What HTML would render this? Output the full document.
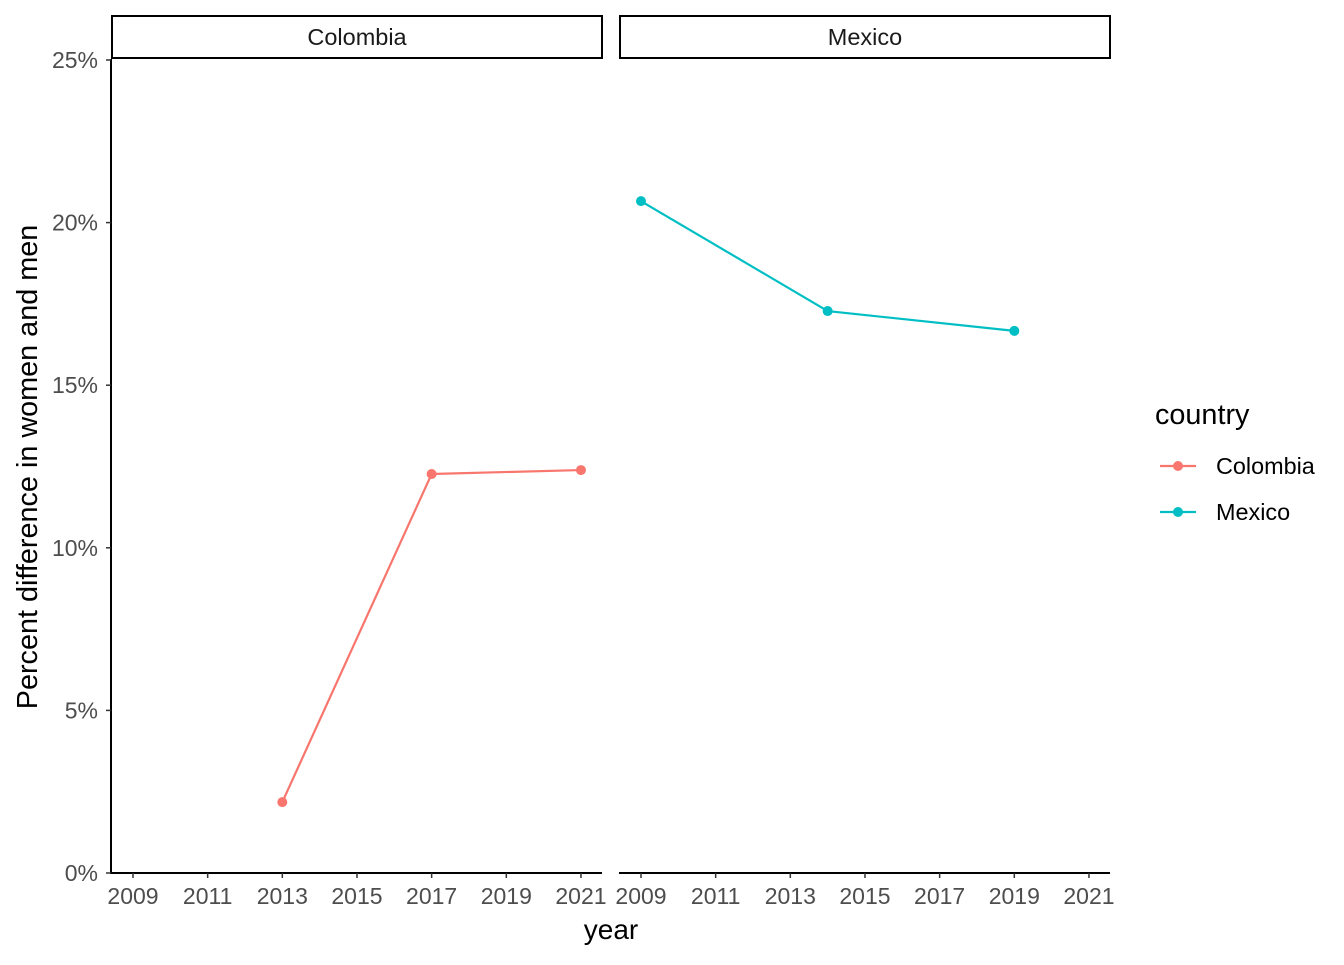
<!DOCTYPE html>
<html><head><meta charset="utf-8"><style>
body{margin:0;background:#fff;}
svg text{font-family:"Liberation Sans",Arial,sans-serif;}
</style></head><body>
<svg id="chart" width="1344" height="960" xmlns="http://www.w3.org/2000/svg"></svg>
<script>
const panels = ["Colombia","Mexico"];
const colYears = [2013, 2017, 2021];
const colValues = [2.18, 12.27, 12.39];
const mexYears = [2009, 2014, 2019];
const mexValues = [20.66, 17.28, 16.67];
const xTicks = [2009, 2011, 2013, 2015, 2017, 2019, 2021];
const yTicks = [0, 5, 10, 15, 20, 25];
const colors = ["#F8766D", "#00BFC4"];

const NS = "http://www.w3.org/2000/svg";
const svg = document.getElementById("chart");
function el(tag, attrs, parent) {
  const e = document.createElementNS(NS, tag);
  for (const k in attrs) e.setAttribute(k, attrs[k]);
  (parent || svg).appendChild(e);
  return e;
}
const y = v => 873 - v * 32.52;
const panelX0 = [111, 619];
const xs = (p, yr) => panelX0[p] + 22 + (yr - 2009) * 37.33;
const series = [[colYears, colValues], [mexYears, mexValues]];

panels.forEach((name, p) => {
  const g = el("g", {});
  
  
  const x0 = panelX0[p], x1 = x0 + 491;
  const strip = el("rect", {x: x0 + 1, y: 16, width: 490, height: 42, fill: "#fff", stroke: "#000", "stroke-width": 2}, g);
  
  
  const st = el("text", {x: x0 + 246, y: 45, "text-anchor": "middle", "font-size": 23.5, fill: "#1a1a1a"}, g);
  st.textContent = name;
  
  
  const xa = el("line", {x1: x0, x2: x1, y1: 873, y2: 873, stroke: "#000", "stroke-width": 2}, g);
  
  
  xTicks.forEach(t => {
    const tx = xs(p, t);
    el("line", {x1: tx, x2: tx, y1: 873, y2: 878, stroke: "#333", "stroke-width": 1.5}, g);
    const lt = el("text", {x: tx, y: 904, "text-anchor": "middle", "font-size": 23, fill: "#4d4d4d"}, g);
    lt.textContent = t;
    
    
  });
  const [yrs, vals] = series[p];
  const pts = yrs.map((yr, i) => xs(p, yr) + "," + y(vals[i])).join(" ");
  const line = el("polyline", {points: pts, fill: "none", stroke: colors[p], "stroke-width": 2.2}, g);
  
  
  yrs.forEach((yr, i) => {
    const c = el("circle", {cx: xs(p, yr), cy: y(vals[i]), r: 5, fill: colors[p]}, g);
    
    
  });
});

const ya = el("line", {x1: 111, x2: 111, y1: 59, y2: 874, stroke: "#000", "stroke-width": 2});


yTicks.forEach(t => {
  el("line", {x1: 106, x2: 111, y1: y(t), y2: y(t), stroke: "#333", "stroke-width": 1.5});
  const lt = el("text", {x: 98, y: y(t) + 8, "text-anchor": "end", "font-size": 23, fill: "#4d4d4d"});
  lt.textContent = t + "%";
  
  
});

const xt = el("text", {x: 611, y: 939, "text-anchor": "middle", "font-size": 28, fill: "#000"});
xt.textContent = "year";


const yt = el("text", {x: 0, y: 0, "text-anchor": "middle", "font-size": 28.8, fill: "#000", transform: "translate(37,467) rotate(-90)"});
yt.textContent = "Percent difference in women and men";



const lg = el("g", {});


const ltit = el("text", {x: 1155, y: 424, "font-size": 28.8, fill: "#000"}, lg);
ltit.textContent = "country";
panels.forEach((name, i) => {
  const cy = 466 + i * 46;
  el("line", {x1: 1160, x2: 1196, y1: cy, y2: cy, stroke: colors[i], "stroke-width": 2.2}, lg);
  el("circle", {cx: 1178, cy: cy, r: 5, fill: colors[i]}, lg);
  const t = el("text", {x: 1216, y: cy + 8, "font-size": 23.4, fill: "#000"}, lg);
  t.textContent = name;
  
  
});
</script>
</body></html>
